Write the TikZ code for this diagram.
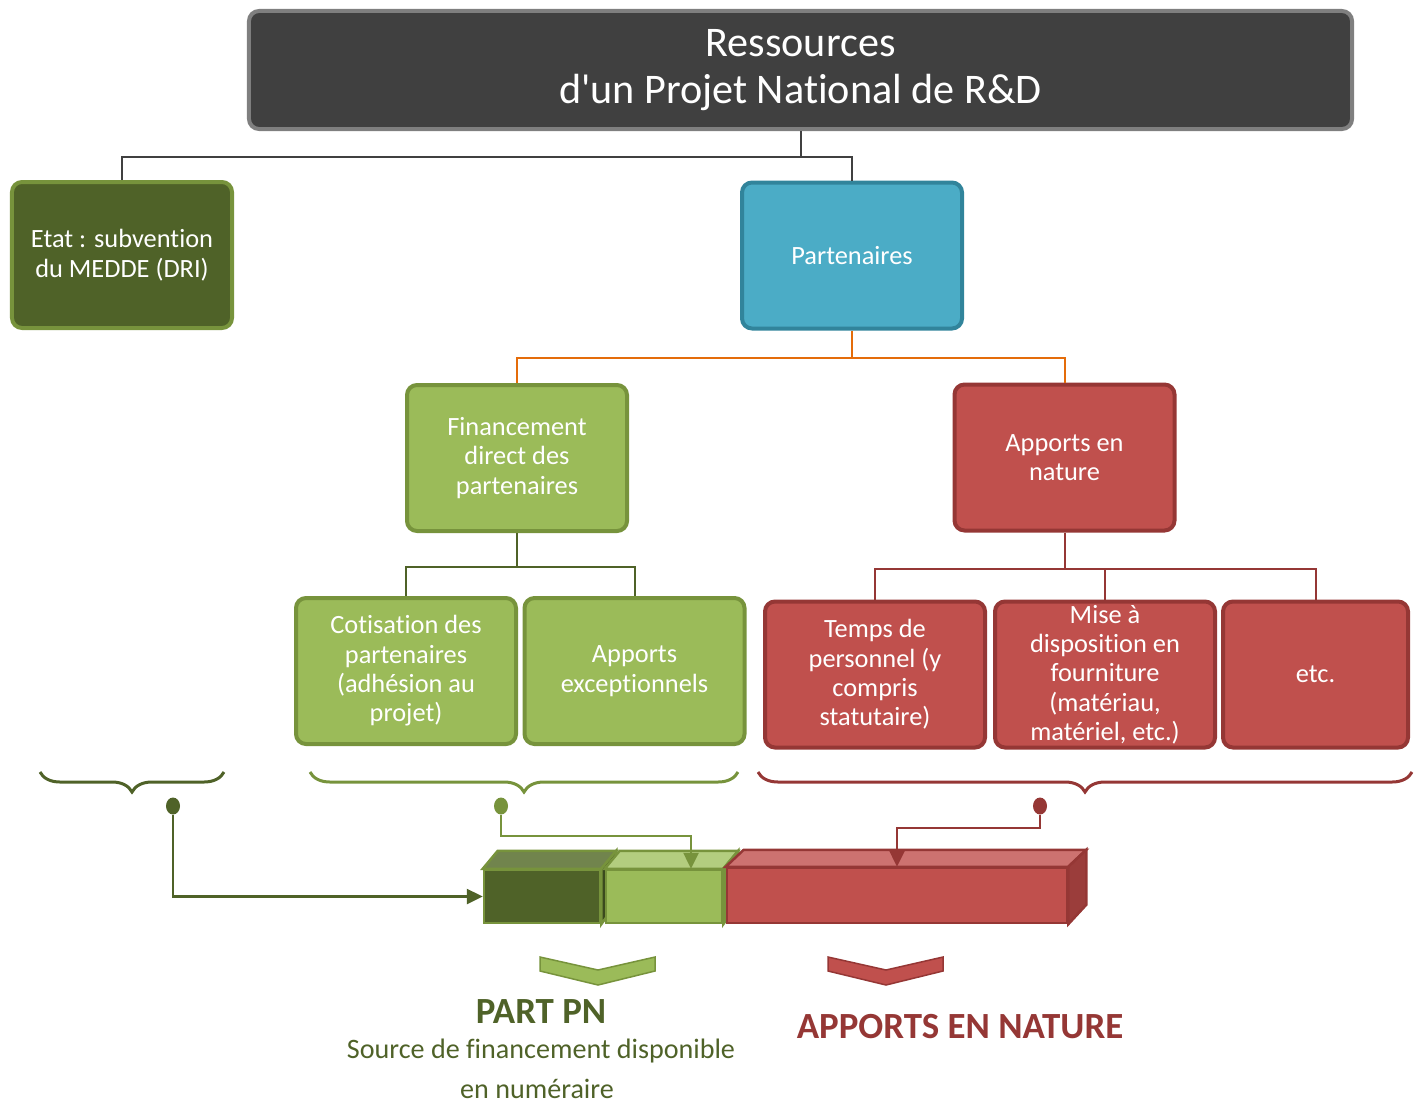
\documentclass[tikz,border=0pt]{standalone}
\usepackage{fontspec}
\setmainfont{Carlito}[Ligatures={TeXOff,CommonOff}]
\usepackage{xcolor}
\usepackage{tikz}
\usetikzlibrary{arrows.meta,positioning,calc,shapes,decorations.pathreplacing}
\definecolor{titlegray}{HTML}{404040}
\definecolor{titleborder}{HTML}{7F7F7F}
\definecolor{darkgreen}{HTML}{4F6228}
\definecolor{midgreen}{HTML}{77933C}
\definecolor{lightgreen}{HTML}{9BBB59}
\definecolor{palegreen}{HTML}{B3CD7F}
\definecolor{topdark}{HTML}{71844D}
\definecolor{sidedark}{HTML}{3B4A1E}
\definecolor{blueish}{HTML}{4BACC6}
\definecolor{blueborder}{HTML}{31849B}
\definecolor{redfill}{HTML}{C0504D}
\definecolor{redborder}{HTML}{953735}
\definecolor{redtop}{HTML}{CD7270}
\definecolor{redside}{HTML}{9B3D3B}
\definecolor{orangeline}{HTML}{E46C0A}

\begin{document}
\begin{tikzpicture}[x=0.2mm, y=-0.2mm,
    every node/.style={font=\fontsize{15}{16.7}\selectfont, text=white, align=center},
    box/.style={draw, line width=0.8mm, rounded corners=2mm, minimum width=44mm, minimum height=29.2mm, inner sep=1pt},
    greenbox/.style={box, fill=lightgreen, draw=midgreen},
    redbox/.style={box, fill=redfill, draw=redborder},
    link/.style={line width=0.4mm},
    curly/.style={decorate, decoration={brace, amplitude=4mm}, line width=0.6mm},
    dot/.style={ellipse, inner sep=0pt, minimum width=2.8mm, minimum height=3.4mm},
    pointer/.style={line width=0.5mm, -{Triangle[length=3.2mm, width=3mm]}},
    cube/.style={draw, line width=0.5mm, minimum height=10.6mm, inner sep=0pt}]
    \useasboundingbox (0,0) rectangle (1414,1104);

    % Title box
    \node[draw=titleborder, fill=titlegray, line width=0.8mm, rounded corners=2mm, minimum width=220.6mm, minimum height=23.6mm, font=\fontsize{24}{26.6}\selectfont] (title) at (800.5,70) {Ressources\\d'un Projet National de R\&D};

    % First level
    \node[box, fill=darkgreen, draw=midgreen] (etat) at (122,255) {Etat : subvention\\du MEDDE (DRI)};
    \node[box, fill=blueish, draw=blueborder] (part) at (852,255.5) {Partenaires};
    \draw[link, titlegray] (title.south) -- ++(0,26) coordinate (j1);
    \draw[link, titlegray] (j1) -| (etat);
    \draw[link, titlegray] (j1) -| (part);

    % Second level
    \node[greenbox] (fin) at (517,458) {Financement\\direct des\\partenaires};
    \node[redbox] (nat) at (1064.5,457.5) {Apports en\\nature};
    \draw[link, orangeline] (part.south) -- ++(0,27) coordinate (j2);
    \draw[link, orangeline] (j2) -| (fin);
    \draw[link, orangeline] (j2) -| (nat);

    % Green leaves
    \node[greenbox] (cotis) at (406,671) {Cotisation des\\partenaires\\(adhésion au\\projet)};
    \node[greenbox] (excep) at (634.5,671) {Apports\\exceptionnels};
    \draw[link, darkgreen] (fin.south) -- ++(0,34) coordinate (j3);
    \draw[link, darkgreen] (j3) -| (cotis);
    \draw[link, darkgreen] (j3) -| (excep);

    % Red leaves
    \node[redbox] (temps) at (875,674.5) {Temps de\\personnel (y\\compris\\statutaire)};
    \node[redbox] (mise) at (1105,674.5) {Mise à\\disposition en\\fourniture\\(matériau,\\matériel, etc.)};
    \node[redbox, minimum width=37mm] (etc) at (1315.5,674.5) {etc.};
    \draw[link, redborder] (nat.south) -- ++(0,36) coordinate (j4);
    \draw[link, redborder] (j4) -| (temps);
    \draw[link, redborder] (j4) -| (mise);
    \draw[link, redborder] (j4) -| (etc);

    % Braces
    \draw[curly, darkgreen] (224,772) -- (40,772);
    \draw[curly, midgreen] (738,772) -- (310,772);
    \draw[curly, redborder] (1412,772) -- (758,772);

    % Dots
    \node[dot, fill=darkgreen] (d1) at (173,806) {};
    \node[dot, fill=midgreen] (d2) at (501,806) {};
    \node[dot, fill=redborder] (d3) at (1040,806) {};

    % Cubes
    \node[cube, fill=darkgreen, draw=midgreen, minimum width=23.2mm] (cubeA) at (542,896.5) {};
    \filldraw[fill=topdark, draw=midgreen, line width=0.5mm] (cubeA.north west) -- ++(15,-18) -- ($(cubeA.north east)+(15,-18)$) -- (cubeA.north east) -- cycle;
    \filldraw[fill=sidedark, draw=midgreen, line width=0.5mm] (cubeA.north east) -- ++(15,-18) -- ++(0,53) -- (cubeA.south east) -- cycle;

    \node[cube, fill=lightgreen, draw=midgreen, minimum width=23.2mm] (cubeB) at (664,896.5) {};
    \filldraw[fill=palegreen, draw=midgreen, line width=0.5mm] (cubeB.north west) -- ++(15,-18) -- ($(cubeB.north east)+(15,-18)$) -- (cubeB.north east) -- cycle;
    \filldraw[fill=midgreen, draw=midgreen, line width=0.5mm] (cubeB.north east) -- ++(15,-18) -- ++(0,53) -- (cubeB.south east) -- cycle;

    \node[cube, fill=redfill, draw=redborder, minimum width=68mm, minimum height=11mm] (cubeC) at (897,895.5) {};
    \filldraw[fill=redtop, draw=redborder, line width=0.5mm] (cubeC.north west) -- ++(18,-17) -- ($(cubeC.north east)+(18,-17)$) -- (cubeC.north east) -- cycle;
    \filldraw[fill=redside, draw=redborder, line width=0.5mm] (cubeC.north east) -- ++(18,-17) -- ++(0,55) -- (cubeC.south east) -- cycle;

    % Arrows
    \coordinate (bend2) at (691,836);
    \coordinate (bend3) at (897,828);
    \draw[pointer, darkgreen] (d1) |- (cubeA.west);
    \draw[pointer, midgreen] (d2) |- (bend2) -- (bend2 |- cubeB.north);
    \draw[pointer, redborder] (d3) |- (bend3) -- (bend3 |- cubeC.north);

    % Chevrons
    \filldraw[fill=lightgreen, draw=midgreen, line width=0.3mm] (540,957) -- (598,970) -- (655,957) -- (655,971) -- (598,985) -- (540,971) -- cycle;
    \filldraw[fill=redfill, draw=redborder, line width=0.3mm] (828,957) -- (886,970) -- (943,957) -- (943,971) -- (886,985) -- (828,971) -- cycle;

    % Captions
    \node[text=darkgreen, font=\fontsize{21}{25}\selectfont\bfseries] (pn) at (541,1012) {PART PN};
    \node[text=darkgreen, font=\fontsize{16}{18}\selectfont] (src) at (541,1051) {Source de financement disponible};
    \node[text=darkgreen, font=\fontsize{16}{18}\selectfont] (num) at (537,1089) {en numéraire};
    \node[text=redborder, font=\fontsize{21}{25}\selectfont\bfseries] (an) at (960,1027) {APPORTS EN NATURE};
\end{tikzpicture}
\end{document}
